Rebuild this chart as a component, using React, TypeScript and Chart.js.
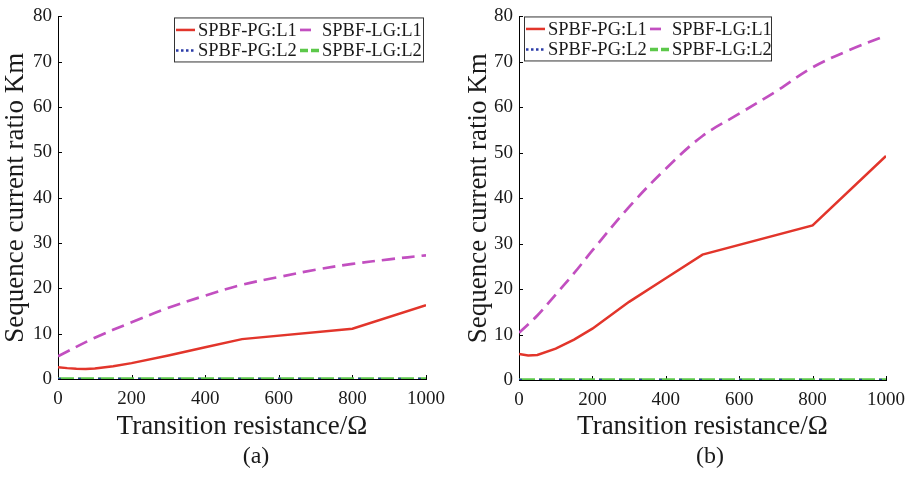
import React, { useEffect, useRef } from 'react';
import { Chart, registerables } from 'chart.js';

Chart.register(...registerables);

// ---------- Data ----------
// Panel (a)
const A_PG_L1_X = [0, 25, 50, 75, 100, 150, 200, 300, 400, 500, 800, 1000];
const A_PG_L1_Y = [2.6, 2.4, 2.25, 2.2, 2.3, 2.8, 3.5, 5.2, 7.0, 8.8, 11.1, 16.3];
const A_LG_L1_X = [0, 100, 200, 300, 400, 500, 600, 700, 800, 900, 1000];
const A_LG_L1_Y = [5.0, 9.1, 12.5, 15.7, 18.4, 20.8, 22.5, 24.1, 25.4, 26.4, 27.3];
// Panel (b)
const B_PG_L1_X = [0, 25, 50, 100, 150, 200, 300, 400, 500, 800, 1000];
const B_PG_L1_Y = [5.7, 5.4, 5.5, 6.9, 8.9, 11.3, 17.2, 22.4, 27.6, 34.0, 49.3];
const B_LG_L1_X = [0, 50, 100, 150, 200, 300, 400, 500, 600, 700, 800, 900, 1000];
const B_LG_L1_Y = [10.4, 14.2, 18.8, 23.5, 28.5, 38.1, 46.5, 53.7, 58.6, 63.5, 68.8, 72.6, 75.8];
// L2 series (both panels): flat at zero
const L2_X = [0, 100, 200, 300, 400, 500, 600, 700, 800, 900, 1000];
const PG_L2_Y = [0, 0, 0, 0, 0, 0, 0, 0, 0, 0, 0];
const LG_L2_Y = [0, 0, 0, 0, 0, 0, 0, 0, 0, 0, 0];

const SERIES_NAMES = ['SPBF-PG:L1', 'SPBF-LG:L1', 'SPBF-PG:L2', 'SPBF-LG:L2'];
const X_TITLE = 'Transition resistance/Ω';
const Y_TITLE = 'Sequence current ratio Km';
const PANEL_LABELS = ['(a)', '(b)'];

const RED = '#e2352b';
const MAGENTA = '#c24fc0';
const BLUE = '#2b3ca8';
const GREEN = '#5cc84a';
const FONT = '"Liberation Serif", "Times New Roman", serif';

const pts = (xs: number[], ys: number[]) => xs.map((x, i) => ({ x, y: ys[i] }));

type LegendCfg = { anchor: 'left' | 'right'; dx: number; dy: number; w: number; h: number };

const legendPlugin = {
  id: 'boxLegend',
  afterDatasetsDraw(chart: any, _args: any, opts: LegendCfg) {
    if (!opts || !opts.w) return;
    const { ctx, chartArea } = chart;
    const left = opts.anchor === 'right' ? chartArea.right - opts.dx - opts.w : chartArea.left + opts.dx;
    const top = chartArea.top + opts.dy;
    ctx.save();
    ctx.fillStyle = '#ffffff';
    ctx.fillRect(left, top, opts.w, opts.h);
    ctx.strokeStyle = '#333333';
    ctx.lineWidth = 1;
    ctx.strokeRect(left + 0.5, top + 0.5, opts.w, opts.h);
    const ds = chart.data.datasets;
    const cols = [
      { s0: 2, s1: 21, t: 24 },
      { s0: 126, s1: 145, t: 148 },
    ];
    const rows = [top + 12.5, top + 33];
    const layout = [
      [0, 0, 0],
      [1, 1, 0],
      [2, 0, 1],
      [3, 1, 1],
    ];
    ctx.font = `18.5px ${FONT}`;
    ctx.textBaseline = 'middle';
    ctx.textAlign = 'left';
    layout.forEach(([i, c, r]) => {
      const d = ds[i];
      const col = cols[c];
      const y = rows[r];
      ctx.save();
      ctx.strokeStyle = d.borderColor;
      ctx.lineWidth = d.borderWidth;
      ctx.setLineDash(d.legendDash || []);
      ctx.beginPath();
      ctx.moveTo(left + col.s0, y);
      ctx.lineTo(left + col.s1, y);
      ctx.stroke();
      ctx.restore();
      ctx.fillStyle = '#1a1a1a';
      ctx.fillText(d.label, left + col.t, y + 1);
    });
    ctx.restore();
  },
};

const innerTicksPlugin = {
  id: 'innerTicks',
  beforeDatasetsDraw(chart: any) {
    const { ctx, chartArea } = chart;
    const xs = chart.scales.x;
    const ys = chart.scales.y;
    ctx.save();
    ctx.strokeStyle = '#000';
    ctx.lineWidth = 1;
    ctx.beginPath();
    xs.ticks.forEach((t: any) => {
      const px = Math.round(xs.getPixelForValue(t.value)) + 0.5;
      ctx.moveTo(px, chartArea.bottom);
      ctx.lineTo(px, chartArea.bottom - 4);
    });
    ys.ticks.forEach((t: any) => {
      const py = Math.round(ys.getPixelForValue(t.value)) + 0.5;
      ctx.moveTo(chartArea.left, py);
      ctx.lineTo(chartArea.left + 4, py);
    });
    ctx.stroke();
    ctx.restore();
  },
};

type PanelProps = {
  pgX: number[]; pgY: number[]; lgX: number[]; lgY: number[];
  width: number; height: number;
  yWidth: number; xHeight: number;
  pad: { top: number; right: number };
  yTitlePad: number;
  legend: LegendCfg;
};

function Panel(p: PanelProps) {
  const ref = useRef<HTMLCanvasElement | null>(null);
  useEffect(() => {
    if (!ref.current) return;
    const chart = new Chart(ref.current, {
      type: 'line',
      data: {
        datasets: [
          {
            label: SERIES_NAMES[0], data: pts(p.pgX, p.pgY), borderColor: RED, borderWidth: 2.5,
            pointRadius: 0, tension: 0, fill: false,
          } as any,
          {
            label: SERIES_NAMES[1], data: pts(p.lgX, p.lgY), borderColor: MAGENTA, borderWidth: 2.7,
            borderDash: [13, 7], legendDash: [11, 20], pointRadius: 0, tension: 0.35, fill: false,
          } as any,
          {
            label: SERIES_NAMES[2], data: pts(L2_X, PG_L2_Y), borderColor: BLUE, borderWidth: 2.5,
            borderDash: [3, 17], legendDash: [2.5, 2.5], pointRadius: 0, tension: 0, fill: false,
          } as any,
          {
            label: SERIES_NAMES[3], data: pts(L2_X, LG_L2_Y), borderColor: GREEN, borderWidth: 3.5,
            borderDash: [16, 4], legendDash: [8, 3], pointRadius: 0, tension: 0, fill: false,
          } as any,
        ],
      },
      options: {
        responsive: false,
        animation: false,
        events: [],
        layout: { padding: { left: 0, top: p.pad.top, right: p.pad.right, bottom: 0 } },
        plugins: {
          legend: { display: false },
          tooltip: { enabled: false },
          boxLegend: p.legend,
        } as any,
        scales: {
          x: {
            type: 'linear', min: 0, max: 1000,
            afterFit: (s: any) => { s.height = p.xHeight; },
            grid: { display: false, drawTicks: false },
            border: { display: true, color: '#000', width: 1 },
            ticks: {
              stepSize: 200, padding: 10, color: '#1a1a1a', maxRotation: 0,
              callback: (v: any) => String(v),
              font: { family: FONT, size: 19, lineHeight: 1.1 },
            },
            title: {
              display: true, text: X_TITLE, color: '#1a1a1a', padding: 0,
              font: { family: FONT, size: 27, lineHeight: 1.2 },
            },
          },
          y: {
            type: 'linear', min: 0, max: 80,
            afterFit: (s: any) => { s.width = p.yWidth; },
            grid: { display: false, drawTicks: false },
            border: { display: true, color: '#000', width: 1 },
            ticks: {
              stepSize: 10, padding: 6, color: '#1a1a1a',
              callback: (v: any) => String(v),
              font: { family: FONT, size: 19, lineHeight: 1.1 },
            },
            title: {
              display: true, text: Y_TITLE, color: '#1a1a1a', padding: { top: p.yTitlePad, bottom: 0 },
              font: { family: FONT, size: 27, lineHeight: 1.2 },
            },
          },
        },
      } as any,
      plugins: [innerTicksPlugin, legendPlugin],
    });
    return () => chart.destroy();
  }, []);
  return (
    <canvas
      ref={ref}
      width={p.width}
      height={p.height}
      style={{ width: p.width, height: p.height, display: 'block' }}
    />
  );
}

export default function App() {
  useEffect(() => {
    document.body.style.margin = '0';
    document.body.style.background = '#ffffff';
  }, []);
  const labelStyle = (cx: number): React.CSSProperties => ({
    position: 'absolute', left: cx - 40, width: 80, top: 441, height: 28, lineHeight: '28px',
    textAlign: 'center', fontFamily: FONT, fontSize: 24, color: '#1a1a1a',
  });
  return (
    <div style={{ position: 'relative', width: 915, height: 477, background: '#fff', overflow: 'hidden' }}>
      <div style={{ position: 'absolute', left: 0, top: 0 }}>
        <Panel
          pgX={A_PG_L1_X} pgY={A_PG_L1_Y} lgX={A_LG_L1_X} lgY={A_LG_L1_Y}
          width={455} height={443} yWidth={58} xHeight={64}
          pad={{ top: 11, right: 22 }} yTitlePad={0}
          legend={{ anchor: 'right', dx: 3, dy: 1, w: 249, h: 44 }}
        />
      </div>
      <div style={{ position: 'absolute', left: 455, top: 0 }}>
        <Panel
          pgX={B_PG_L1_X} pgY={B_PG_L1_Y} lgX={B_LG_L1_X} lgY={B_LG_L1_Y}
          width={460} height={443} yWidth={64} xHeight={63}
          pad={{ top: 15, right: 25 }} yTitlePad={8}
          legend={{ anchor: 'left', dx: 5, dy: 0, w: 247, h: 44 }}
        />
      </div>
      <div style={labelStyle(256)}>{PANEL_LABELS[0]}</div>
      <div style={labelStyle(710)}>{PANEL_LABELS[1]}</div>
    </div>
  );
}
